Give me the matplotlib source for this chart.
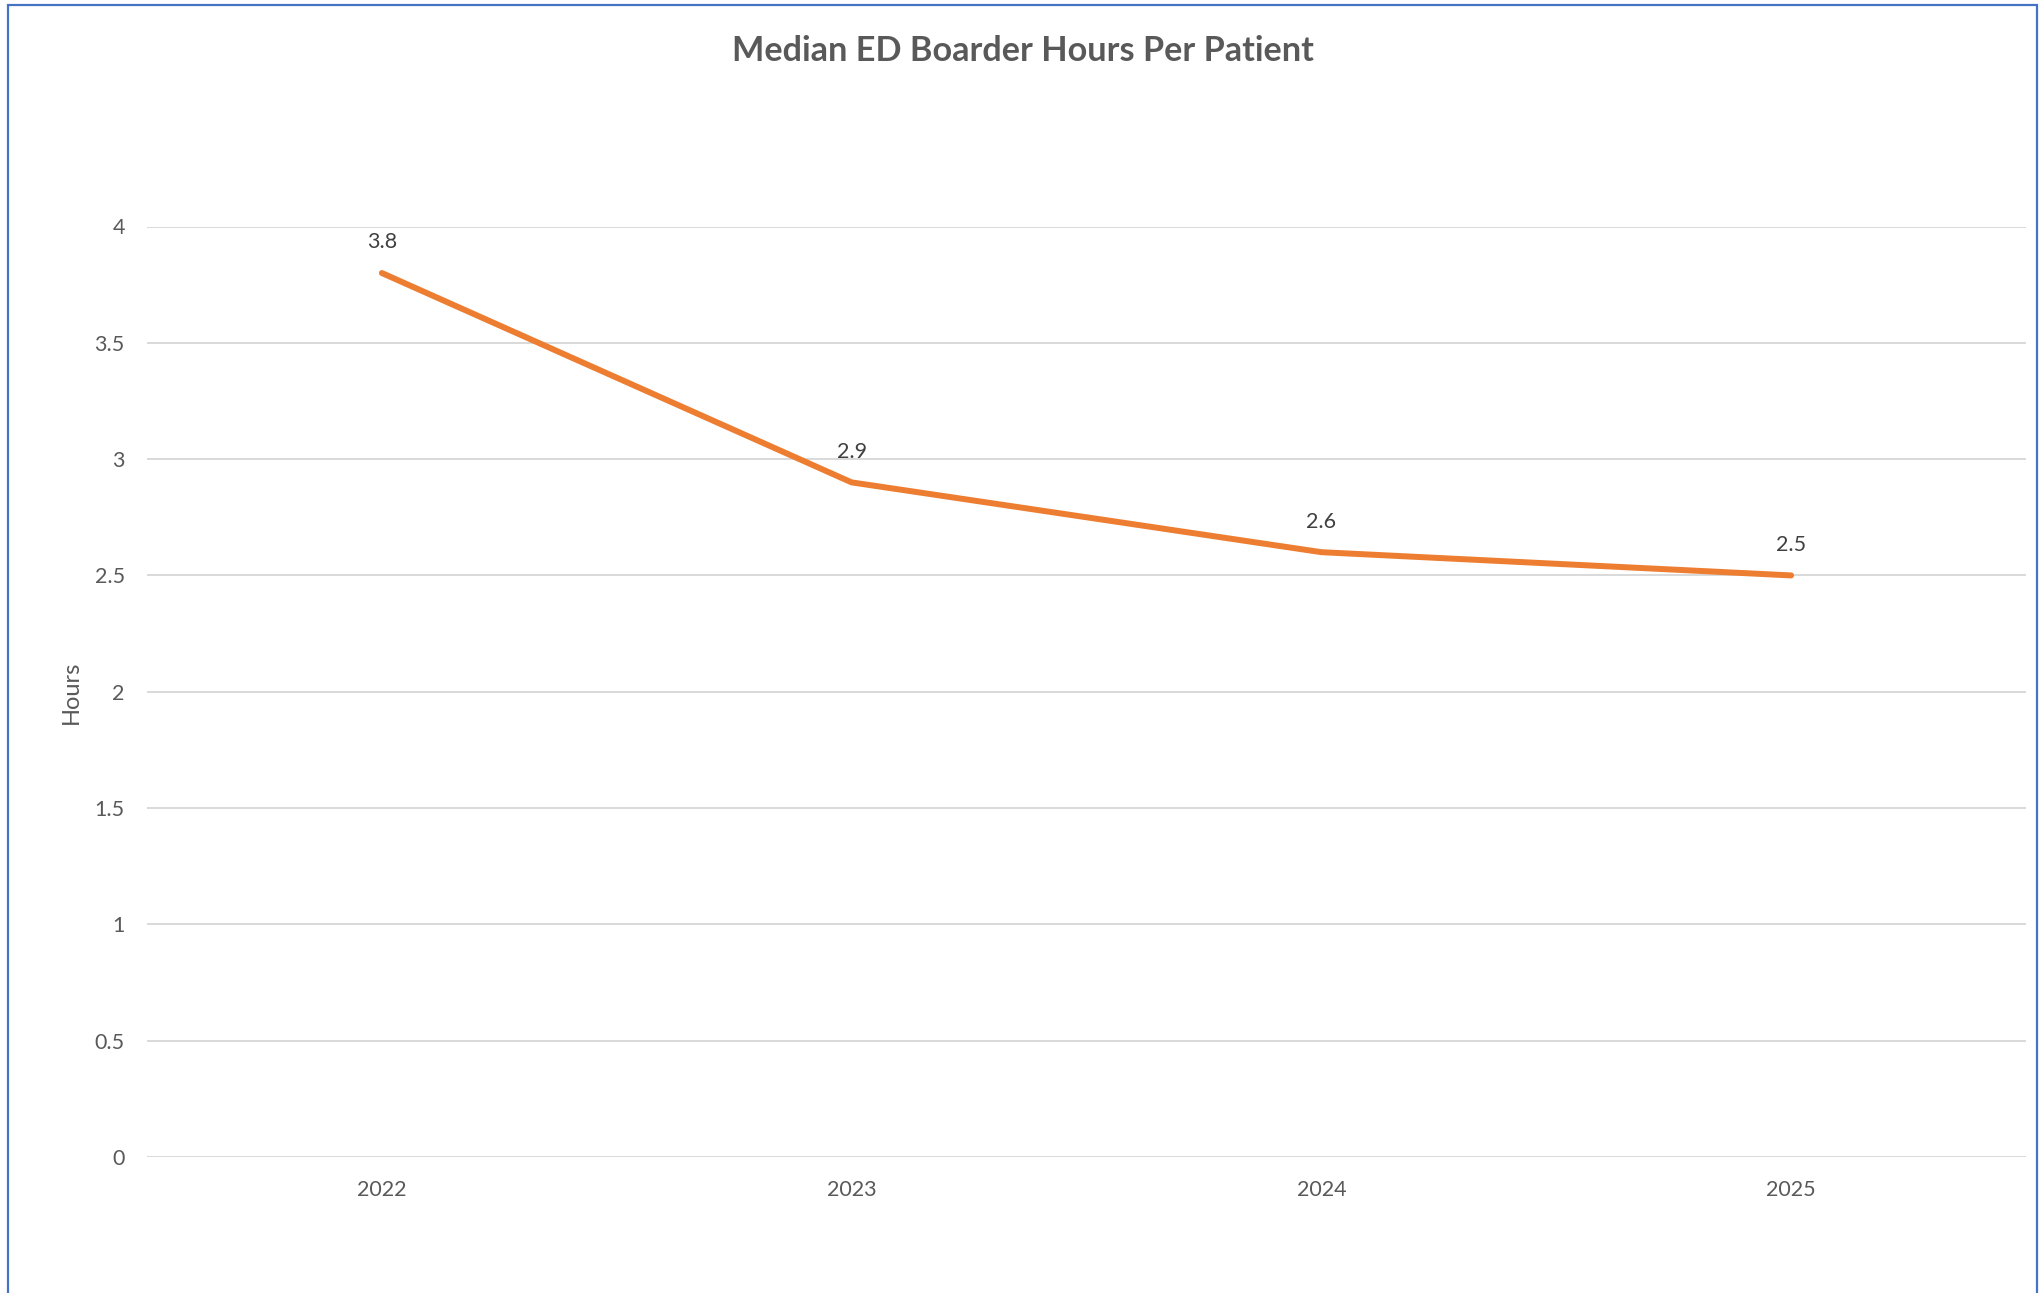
import matplotlib.pyplot as plt
from matplotlib.patches import Rectangle

years = ['2022', '2023', '2024', '2025']
hours = [3.8, 2.9, 2.6, 2.5]
y_ticks = [0, 0.5, 1, 1.5, 2, 2.5, 3, 3.5, 4]
y_tick_labels = ['0', '0.5', '1', '1.5', '2', '2.5', '3', '3.5', '4']

text_grey = '#595959'
orange = '#ED7D31'

plt.rcParams['font.family'] = ['Lato', 'DejaVu Sans']

W, H = 2041, 1293
fig = plt.figure(figsize=(W / 100, H / 100), dpi=100)
ax = fig.add_axes([147 / W, 1 - 1157 / H, (2026 - 147) / W, (1157 - 226.5) / H])

x = list(range(len(years)))
ax.plot(x, hours, color=orange, linewidth=4.3, solid_capstyle='round',
        solid_joinstyle='round', zorder=3)

# data labels above each point
for xi, v in zip(x, hours):
    ax.annotate(f'{v}', (xi, v), xytext=(0, 22), textcoords='offset points',
                ha='center', va='center', fontsize=15.5, color='#404040')

ax.set_xlim(-0.5, len(years) - 0.5)
ax.set_ylim(0, 4)
ax.set_xticks(x)
ax.set_xticklabels(years)
ax.set_yticks(y_ticks)
ax.set_yticklabels(y_tick_labels)
ax.tick_params(axis='both', length=0, labelsize=15.5, labelcolor=text_grey)
ax.tick_params(axis='y', pad=16)
ax.tick_params(axis='x', pad=16.5)
ax.grid(axis='y', color='#D9D9D9', linewidth=1.4)
ax.set_axisbelow(True)
for s in ax.spines.values():
    s.set_visible(False)

fig.text(71 / W, 1 - 692 / H, 'Hours', rotation=90, ha='center', va='center',
         fontsize=17, color=text_grey)
fig.text(1023 / W, 1 - 51 / H, 'Median ED Boarder Hours Per Patient',
         ha='center', va='center', fontsize=24.7, fontweight='bold', color=text_grey)

# chart border (bottom edge falls outside the image)
fig.patches.append(Rectangle((8 / W, -0.1), (2037 - 8) / W, 1.1 - 5 / H,
                             transform=fig.transFigure, fill=False,
                             edgecolor='#4472C4', linewidth=1.6))

fig.savefig('out.png', dpi=100, facecolor='white')
